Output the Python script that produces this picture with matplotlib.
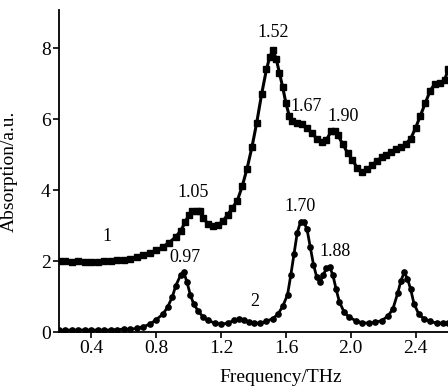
import matplotlib
matplotlib.use("Agg")
import matplotlib.pyplot as plt

freq1 = [0.20, 0.24, 0.28, 0.32, 0.36, 0.40, 0.44, 0.48, 0.52, 0.56, 0.60, 0.64, 0.68, 0.72,
         0.76, 0.80, 0.84, 0.88, 0.92, 0.95, 0.98, 1.00, 1.02, 1.05, 1.07, 1.09, 1.12, 1.15,
         1.18, 1.21, 1.24, 1.27, 1.30, 1.33, 1.36, 1.39, 1.42, 1.45, 1.48, 1.50, 1.52, 1.54,
         1.56, 1.58, 1.60, 1.62, 1.64, 1.67, 1.70, 1.73, 1.76, 1.79, 1.82, 1.85, 1.88, 1.90,
         1.92, 1.95, 1.98, 2.01, 2.04, 2.07, 2.10, 2.13, 2.16, 2.19, 2.22, 2.25, 2.28, 2.31,
         2.34, 2.37, 2.40, 2.43, 2.46, 2.49, 2.52, 2.55, 2.58, 2.60]
absorb1 = [2.0, 2.0, 1.98, 2.0, 1.97, 1.98, 1.98, 2.0, 2.0, 2.02, 2.04, 2.06, 2.12, 2.18,
           2.24, 2.3, 2.4, 2.52, 2.68, 2.85, 3.1, 3.3, 3.42, 3.42, 3.4, 3.2, 3.05, 3.0,
           3.02, 3.12, 3.3, 3.5, 3.7, 4.1, 4.6, 5.2, 5.9, 6.7, 7.4, 7.75, 7.94, 7.7,
           7.3, 6.9, 6.45, 6.1, 5.95, 5.88, 5.85, 5.75, 5.6, 5.45, 5.35, 5.42, 5.65, 5.65,
           5.55, 5.3, 5.05, 4.85, 4.62, 4.52, 4.58, 4.7, 4.82, 4.92, 5.0, 5.08, 5.15, 5.2,
           5.3, 5.45, 5.75, 6.1, 6.45, 6.8, 7.0, 7.02, 7.1, 7.4]

freq2 = [0.20, 0.24, 0.28, 0.32, 0.36, 0.40, 0.44, 0.48, 0.52, 0.56, 0.60, 0.64, 0.68, 0.72,
         0.76, 0.80, 0.84, 0.87, 0.90, 0.92, 0.95, 0.97, 0.99, 1.01, 1.03, 1.06, 1.09, 1.12,
         1.16, 1.20, 1.24, 1.28, 1.31, 1.34, 1.37, 1.40, 1.44, 1.48, 1.52, 1.55, 1.58, 1.61,
         1.63, 1.65, 1.67, 1.69, 1.71, 1.73, 1.75, 1.77, 1.79, 1.81, 1.83, 1.85, 1.87, 1.89,
         1.91, 1.93, 1.96, 1.99, 2.03, 2.07, 2.11, 2.15, 2.19, 2.23, 2.26, 2.29, 2.31, 2.33,
         2.35, 2.37, 2.39, 2.42, 2.45, 2.49, 2.53, 2.57, 2.60]
absorb2 = [0.05, 0.05, 0.06, 0.05, 0.06, 0.05, 0.06, 0.05, 0.06, 0.07, 0.08, 0.08, 0.1, 0.15,
           0.22, 0.35, 0.5, 0.7, 1.0, 1.3, 1.6, 1.68, 1.4, 1.05, 0.8, 0.58, 0.42, 0.33,
           0.25, 0.22, 0.25, 0.33, 0.38, 0.35, 0.28, 0.25, 0.25, 0.3, 0.38, 0.5, 0.72, 1.05,
           1.6, 2.2, 2.8, 3.1, 3.1, 2.9, 2.4, 1.9, 1.55, 1.4, 1.6, 1.8, 1.83, 1.6,
           1.2, 0.85, 0.55, 0.42, 0.32, 0.26, 0.25, 0.27, 0.32, 0.45, 0.65, 1.1, 1.45, 1.68,
           1.5, 1.2, 0.8, 0.5, 0.38, 0.3, 0.25, 0.25, 0.25]

peak_labels = ["1.52", "1.67", "1.90", "1.05", "0.97", "1.70", "1.88", "1", "2"]
peak_x = [1.52, 1.726, 1.954, 1.025, 0.975, 1.69, 1.905, 0.495, 1.41]
peak_y = [8.43, 6.34, 6.06, 3.92, 2.11, 3.55, 2.28, 2.7, 0.85]

xticks = [0.4, 0.8, 1.2, 1.6, 2.0, 2.4]
yticks = [0, 2, 4, 6, 8]

plt.rcParams['font.family'] = ['Liberation Serif', 'DejaVu Serif']

fig = plt.figure(figsize=(4.48, 3.88), dpi=100)
ax = fig.add_axes([0.1317, 0.1443, 0.8683, 0.8297])

ax.plot(freq1, absorb1, color='black', lw=2.2, marker='s', ms=4.2, mfc='black', mec='black')
ax.plot(freq2, absorb2, color='black', lw=2.0, marker='o', ms=3.8, mfc='black', mec='black')

for t, x, y in zip(peak_labels, peak_x, peak_y):
    ax.text(x, y, t, ha='center', va='center', fontsize=13)

ax.set_xlim(0.2, 2.6)
ax.set_ylim(0, 9.07)
ax.set_xticks(xticks)
ax.set_xticklabels([f"{v:.1f}" for v in xticks])
ax.set_yticks(yticks)
ax.tick_params(axis='both', labelsize=14, length=4, width=1.2, direction='out', pad=2)
for s in ['top', 'right']:
    ax.spines[s].set_visible(False)
for s in ['left', 'bottom']:
    ax.spines[s].set_linewidth(1.3)

ax.set_xlabel('Frequency/THz', fontsize=14)
ax.xaxis.set_label_coords(0.57, -0.115)
ax.set_ylabel('Absorption/a.u.', fontsize=14)
ax.yaxis.set_label_coords(-0.105, 0.5)

fig.savefig('out.png', dpi=100)
